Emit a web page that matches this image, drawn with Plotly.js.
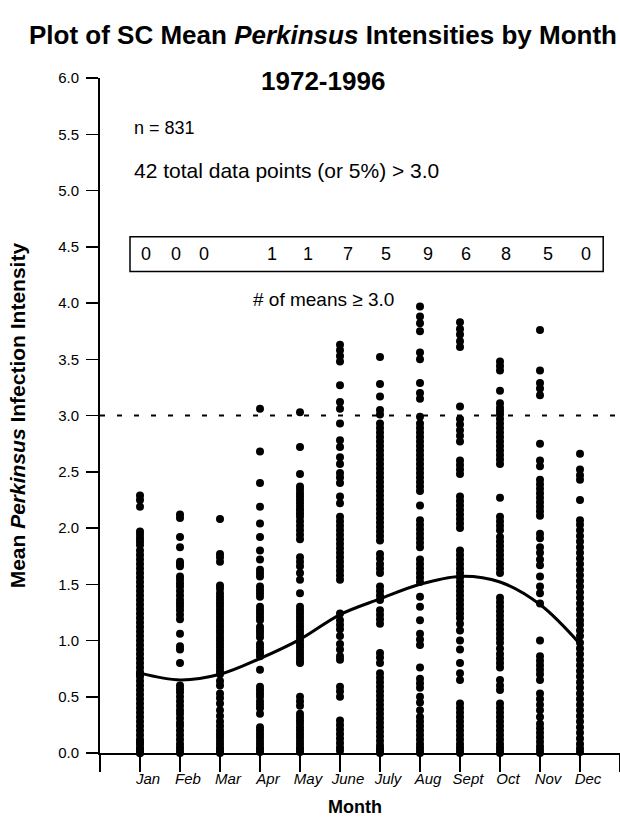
<!DOCTYPE html>
<html>
<head>
<meta charset="utf-8">
<script src="https://cdn.plot.ly/plotly-3.0.1.min.js"></script>
<style>html,body{margin:0;padding:0;background:#fff;}#chart{width:620px;height:837px;}</style>
</head>
<body>
<div id="chart"></div>
<script>
// ---- data ----
var months = ["Jan","Feb","Mar","Apr","May","June","July","Aug","Sept","Oct","Nov","Dec"];
var jan = [2.29,2.25,2.19,1.97,1.94,1.91,1.88,1.85,1.80,1.76,1.72,1.68,1.64,1.60,1.56,1.52,1.48,1.44,1.40,1.36,1.32,1.28,1.24,1.20,1.16,1.12,1.08,1.04,1.00,0.96,0.92,0.88,0.84,0.80,0.76,0.72,0.70,0.68,0.64,0.60,0.56,0.52,0.48,0.44,0.40,0.36,0.32,0.28,0.24,0.20,0.16,0.12,0.10,0.08,0.05,0.03,0.02,0.0,0.0];
var feb = [2.12,2.09,1.92,1.83,1.70,1.68,1.66,1.57,1.54,1.51,1.48,1.44,1.40,1.36,1.33,1.30,1.27,1.23,1.19,1.06,0.95,0.92,0.80,0.60,0.57,0.54,0.50,0.46,0.42,0.38,0.35,0.31,0.27,0.24,0.20,0.16,0.12,0.08,0.05,0.02,0.0];
var mar = [2.08,1.77,1.74,1.70,1.49,1.46,1.42,1.39,1.36,1.33,1.30,1.27,1.24,1.21,1.18,1.15,1.12,1.09,1.06,1.03,1.00,0.97,0.94,0.91,0.88,0.85,0.82,0.79,0.76,0.73,0.70,0.64,0.60,0.53,0.49,0.44,0.38,0.33,0.28,0.24,0.20,0.17,0.14,0.11,0.08,0.05,0.03,0.01,0.0];
var apr = [3.06,2.68,2.40,2.19,2.04,1.92,1.80,1.72,1.63,1.60,1.57,1.48,1.45,1.42,1.39,1.30,1.27,1.24,1.21,1.18,1.12,1.09,1.06,1.03,0.97,0.94,0.91,0.89,0.86,0.74,0.59,0.56,0.53,0.50,0.46,0.43,0.40,0.35,0.23,0.20,0.17,0.14,0.11,0.08,0.05,0.03,0.01];
var may = [3.03,2.72,2.48,2.37,2.34,2.31,2.28,2.25,2.22,2.19,2.16,2.13,2.10,2.06,2.02,1.98,1.94,1.90,1.74,1.70,1.66,1.60,1.54,1.42,1.30,1.27,1.24,1.21,1.18,1.15,1.12,1.09,1.06,1.03,1.00,0.97,0.94,0.91,0.88,0.85,0.82,0.80,0.50,0.46,0.42,0.35,0.32,0.29,0.26,0.23,0.20,0.17,0.14,0.11,0.08,0.05,0.03,0.01];
var jun = [3.63,3.58,3.53,3.48,3.27,3.12,3.06,2.93,2.78,2.72,2.63,2.57,2.49,2.45,2.40,2.28,2.22,2.10,2.06,2.02,1.98,1.94,1.90,1.86,1.82,1.78,1.74,1.70,1.66,1.62,1.58,1.54,1.24,1.18,1.14,1.10,1.04,0.97,0.92,0.86,0.83,0.59,0.55,0.50,0.29,0.25,0.21,0.17,0.13,0.09,0.05,0.02];
var jul = [3.52,3.28,3.17,3.05,3.01,2.93,2.89,2.85,2.81,2.77,2.73,2.69,2.65,2.61,2.57,2.53,2.49,2.45,2.41,2.37,2.33,2.29,2.25,2.21,2.17,2.13,2.09,2.05,2.01,1.97,1.93,1.89,1.77,1.73,1.68,1.64,1.60,1.48,1.44,1.40,1.36,1.27,1.23,1.19,1.15,0.89,0.85,0.80,0.71,0.67,0.63,0.59,0.55,0.51,0.47,0.43,0.39,0.35,0.31,0.27,0.23,0.19,0.15,0.11,0.07,0.04,0.02,0.0];
var aug = [3.97,3.88,3.82,3.75,3.56,3.50,3.29,3.20,3.15,2.99,2.93,2.89,2.85,2.81,2.77,2.73,2.69,2.65,2.61,2.57,2.53,2.49,2.45,2.41,2.37,2.33,2.20,2.07,2.03,1.99,1.95,1.91,1.87,1.83,1.72,1.68,1.64,1.60,1.56,1.52,1.39,1.30,1.18,1.06,1.01,0.96,0.76,0.66,0.62,0.58,0.50,0.45,0.38,0.32,0.28,0.24,0.20,0.16,0.12,0.08,0.05,0.02,0.0];
var sep = [3.83,3.77,3.72,3.66,3.61,3.08,2.97,2.92,2.87,2.82,2.77,2.60,2.56,2.52,2.48,2.28,2.24,2.20,2.16,2.12,2.08,2.04,2.00,1.80,1.76,1.72,1.68,1.64,1.60,1.56,1.52,1.48,1.44,1.40,1.36,1.32,1.28,1.24,1.20,1.15,1.09,1.00,0.92,0.80,0.71,0.65,0.44,0.40,0.36,0.32,0.28,0.24,0.20,0.16,0.12,0.08,0.05,0.02,0.0];
var oct = [3.48,3.44,3.40,3.22,3.11,3.07,3.04,3.01,2.97,2.93,2.89,2.85,2.81,2.77,2.73,2.69,2.65,2.61,2.57,2.27,2.10,2.06,2.02,1.98,1.92,1.88,1.84,1.80,1.76,1.72,1.68,1.64,1.60,1.38,1.34,1.30,1.26,1.22,1.18,1.14,1.10,1.06,1.02,0.98,0.93,0.88,0.84,0.80,0.76,0.65,0.60,0.56,0.44,0.40,0.36,0.32,0.28,0.24,0.20,0.16,0.12,0.08,0.05,0.02,0.0];
var nov = [3.76,3.40,3.29,3.24,3.18,2.75,2.60,2.55,2.43,2.39,2.35,2.31,2.27,2.23,2.19,2.15,2.11,1.95,1.91,1.83,1.78,1.72,1.67,1.57,1.48,1.42,1.33,1.00,0.86,0.82,0.78,0.74,0.70,0.65,0.53,0.48,0.43,0.38,0.32,0.26,0.22,0.18,0.14,0.10,0.06,0.03,0.0];
var dec = [2.66,2.52,2.47,2.43,2.25,2.07,2.03,1.98,1.93,1.88,1.83,1.78,1.73,1.68,1.63,1.58,1.53,1.48,1.43,1.38,1.33,1.28,1.23,1.18,1.14,1.09,1.04,0.98,0.93,0.88,0.83,0.78,0.73,0.68,0.63,0.58,0.53,0.48,0.43,0.38,0.33,0.28,0.23,0.18,0.13,0.08,0.04,0.01];
var fitCurve = [0.71,0.65,0.70,0.84,1.01,1.23,1.37,1.50,1.57,1.52,1.32,0.97];
var countsAbove3 = [0,0,0,1,1,7,5,9,6,8,5,0];
var countLabelX = [1.15,1.90,2.60,4.30,5.20,6.20,7.15,8.20,9.15,10.15,11.20,12.15];
var threshold = 3.0;

// ---- build traces ----
var series = [jan,feb,mar,apr,may,jun,jul,aug,sep,oct,nov,dec];
var px = [], py = [];
series.forEach(function(arr, i){ arr.forEach(function(v){ px.push(i+1); py.push(v); }); });
var monthIdx = months.map(function(m,i){ return i+1; });

var SANS = "'Liberation Sans', Arial, Helvetica, sans-serif";

var traces = [
  {type:'scatter', mode:'markers', x:px, y:py, cliponaxis:false,
   marker:{color:'#000', size:8}, hoverinfo:'skip', showlegend:false},
  {type:'scatter', mode:'lines', x:monthIdx, y:fitCurve, cliponaxis:false,
   line:{color:'#000', width:3, shape:'spline', smoothing:1}, showlegend:false},
  {type:'scatter', mode:'lines', x:[0,13], y:[threshold,threshold], cliponaxis:false,
   line:{color:'#000', width:2, dash:'5px,12px'}, showlegend:false}
];

var tickVals = [], tickText = [];
for (var t=0; t<=13; t++){ tickVals.push(t); tickText.push(t>=1 && t<=12 ? '<i>'+months[t-1]+'</i>' : ''); }

var ann = [
  {xref:'paper', yref:'paper', x:0.429, y:1.064, text:'<b>Plot of SC Mean <i>Perkinsus</i> Intensities by Month</b>',
   showarrow:false, xanchor:'center', yanchor:'middle', font:{family:SANS, size:26, color:'#000'}},
  {xref:'paper', yref:'paper', x:0.429, y:0.9956, text:'<b>1972-1996</b>',
   showarrow:false, xanchor:'center', yanchor:'middle', font:{family:SANS, size:26, color:'#000'}},
  {xref:'paper', yref:'paper', x:-0.158, y:0.50, text:'<b>Mean <i>Perkinsus</i> Infection Intensity</b>', textangle:-90,
   showarrow:false, xanchor:'center', yanchor:'middle', font:{family:SANS, size:21, color:'#000'}},
  {xref:'paper', yref:'paper', x:0.49, y:-0.08, text:'<b>Month</b>',
   showarrow:false, xanchor:'center', yanchor:'middle', font:{family:SANS, size:18, color:'#000'}},
  {xref:'x', yref:'y', x:0.8, y:5.56, text:'n = 831', showarrow:false, xanchor:'left', yanchor:'middle',
   font:{family:SANS, size:18, color:'#000'}},
  {xref:'x', yref:'y', x:0.8, y:5.18, text:'42 total data points (or 5%) > 3.0', showarrow:false, xanchor:'left', yanchor:'middle',
   font:{family:SANS, size:21, color:'#000'}},
  {xref:'x', yref:'y', x:5.58, y:4.03, text:'# of means ≥ 3.0', showarrow:false, xanchor:'center', yanchor:'middle',
   font:{family:SANS, size:19, color:'#000'}}
];
countsAbove3.forEach(function(c,i){
  ann.push({xref:'x', yref:'y', x:countLabelX[i], y:4.44, text:String(c), showarrow:false,
    xanchor:'center', yanchor:'middle', font:{family:SANS, size:18, color:'#000'}});
});

var layout = {
  width:620, height:837,
  margin:{l:100, r:0, t:78, b:84},
  paper_bgcolor:'#fff', plot_bgcolor:'#fff',
  showlegend:false,
  xaxis:{range:[0,13], tickmode:'array', tickvals:tickVals, ticktext:tickText,
    showgrid:false, zeroline:false, showline:true, linecolor:'#000', linewidth:2,
    ticks:'outside', ticklen:17, tickwidth:2, tickcolor:'#000', ticklabelshift:8, ticklabelstandoff:-6,
    tickfont:{family:SANS, size:15, color:'#000'}},
  yaxis:{range:[0,6], tickmode:'array', tickvals:[0,0.5,1,1.5,2,2.5,3,3.5,4,4.5,5,5.5,6],
    ticktext:['0.0','0.5','1.0','1.5','2.0','2.5','3.0','3.5','4.0','4.5','5.0','5.5','6.0'],
    showgrid:false, zeroline:false, showline:true, linecolor:'#000', linewidth:2,
    ticks:'outside', ticklen:12, tickwidth:1.5, tickcolor:'#000', ticklabelstandoff:4,
    tickfont:{family:SANS, size:15, color:'#000'}},
  shapes:[
    {type:'rect', xref:'x', yref:'y', x0:0.75, x1:12.58, y0:4.28, y1:4.59, line:{color:'#000', width:1.5}, fillcolor:'rgba(0,0,0,0)'},
    {type:'line', xref:'paper', yref:'y', x0:-0.025, x1:0, y0:0, y1:0, line:{color:'#000', width:2}}
  ],
  annotations:ann
};

Plotly.newPlot('chart', traces, layout, {staticPlot:true, displayModeBar:false});
</script>
</body>
</html>
